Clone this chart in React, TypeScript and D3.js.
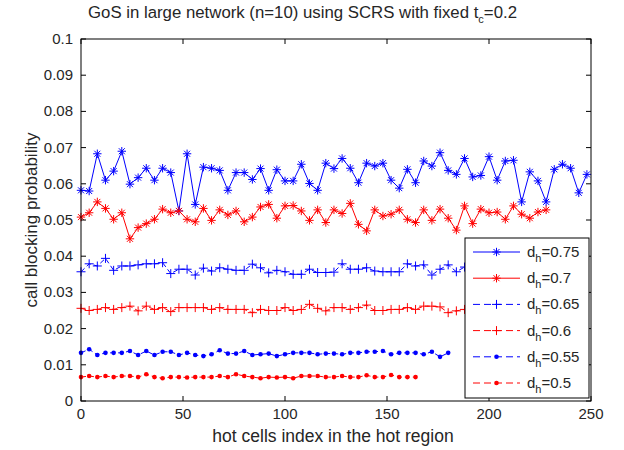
import React from "react";
import * as d3 from "d3";

const xTicks = [0, 50, 100, 150, 200, 250];
const yTicks = [0, 0.01, 0.02, 0.03, 0.04, 0.05, 0.06, 0.07, 0.08, 0.09, 0.1];
const yTickLabels = ["0", "0.01", "0.02", "0.03", "0.04", "0.05", "0.06", "0.07", "0.08", "0.09", "0.1"];
const step = 4;

const dh075 = [
  0.0582, 0.058, 0.0683, 0.061, 0.0635, 0.069, 0.0599, 0.0617, 0.0643, 0.061, 0.0643, 0.0631, 0.0525, 0.0683, 0.0543, 0.0646, 0.0643, 0.0637, 0.0582, 0.0631, 0.0631, 0.0612,
  0.0642, 0.0582, 0.0639, 0.0608, 0.0608, 0.0654, 0.0601, 0.0582, 0.0657, 0.0642, 0.067, 0.0643, 0.0603, 0.0657, 0.0649, 0.0657, 0.061, 0.0588, 0.064, 0.0603, 0.0663,
  0.0649, 0.0686, 0.0637, 0.0626, 0.067, 0.0619, 0.0623, 0.0675, 0.061, 0.0663, 0.0665, 0.055, 0.0633, 0.0608, 0.055, 0.064, 0.0654, 0.0643, 0.0575, 0.0626,
];
const dh07 = [
  0.0508, 0.052, 0.055, 0.0532, 0.0502, 0.052, 0.0448, 0.0479, 0.049, 0.0502, 0.053, 0.052, 0.0525, 0.0502, 0.0495, 0.0532, 0.0499, 0.0528, 0.0514, 0.0525, 0.0495, 0.0508,
  0.0536, 0.0543, 0.0505, 0.0539, 0.054, 0.0525, 0.0499, 0.0528, 0.0493, 0.0528, 0.0518, 0.0546, 0.0488, 0.047, 0.0528, 0.0511, 0.0516, 0.0528, 0.0502, 0.0493, 0.0528,
  0.0499, 0.053, 0.0505, 0.0472, 0.0539, 0.049, 0.053, 0.052, 0.0522, 0.0502, 0.0539, 0.0516, 0.0505, 0.0522, 0.0528,
];
const dh065 = [
  0.0357, 0.0379, 0.0373, 0.0394, 0.0361, 0.0373, 0.0373, 0.0376, 0.0379, 0.0379, 0.0382, 0.0352, 0.0364, 0.0364, 0.0348, 0.0367,
  0.0359, 0.0368, 0.0364, 0.0361, 0.0361, 0.0378, 0.0368, 0.0354, 0.0361, 0.0357, 0.035, 0.035, 0.0364, 0.0355, 0.0355, 0.0356,
  0.0379, 0.0364, 0.0364, 0.0368, 0.0359, 0.0357, 0.0357, 0.0357, 0.0379, 0.0373, 0.0376, 0.0348, 0.0364, 0.0376, 0.0357, 0.037,
];
const dh06 = [
  0.0256, 0.025, 0.0253, 0.0258, 0.0253, 0.0258, 0.0262, 0.0249, 0.0262, 0.0253, 0.0258, 0.0247, 0.0258, 0.0258, 0.0258, 0.0258,
  0.0253, 0.0258, 0.0253, 0.0253, 0.0253, 0.0244, 0.0253, 0.025, 0.025, 0.0258, 0.025, 0.0253, 0.0267, 0.0256, 0.0249, 0.0258,
  0.0258, 0.0253, 0.0258, 0.0265, 0.025, 0.025, 0.0253, 0.0253, 0.0258, 0.0253, 0.0262, 0.0262, 0.026, 0.0244, 0.0249, 0.0253,
];
const dh055 = [
  0.0133, 0.0143, 0.0127, 0.0133, 0.0133, 0.0133, 0.0138, 0.0127, 0.0138, 0.0127, 0.0136, 0.0136, 0.0127, 0.0133, 0.0127, 0.0124,
  0.0129, 0.014, 0.0131, 0.0131, 0.0138, 0.0127, 0.0129, 0.0131, 0.0124, 0.0129, 0.0133, 0.0133, 0.0133, 0.0129, 0.0131, 0.0131,
  0.0129, 0.0133, 0.0133, 0.0136, 0.0136, 0.0138, 0.0129, 0.0133, 0.0133, 0.0133, 0.0129, 0.0136, 0.0122, 0.0133,
];
const dh05 = [
  0.0066, 0.0069, 0.0066, 0.0069, 0.0066, 0.0069, 0.0069, 0.0066, 0.0074, 0.0066, 0.0063, 0.0066, 0.0066, 0.0065, 0.0066, 0.0066,
  0.0066, 0.0069, 0.0066, 0.0074, 0.0069, 0.0066, 0.0063, 0.0066, 0.0065, 0.0066, 0.0063, 0.0069, 0.0069, 0.0069, 0.0066, 0.0066,
  0.0069, 0.0066, 0.0066, 0.0071, 0.0066, 0.0066, 0.0072, 0.0066, 0.0066, 0.0066,
];

const seriesLabels = ["0.75", "0.7", "0.65", "0.6", "0.55", "0.5"];
const seriesData = [dh075, dh07, dh065, dh06, dh055, dh05];

type Style = { color: string; dash?: string; marker: "star" | "plus" | "dot" };
const styles: Style[] = [
  { color: "#0000ff", marker: "star" },
  { color: "#ff0000", marker: "star" },
  { color: "#0000ff", marker: "plus", dash: "5,3" },
  { color: "#ff0000", marker: "plus", dash: "5,3" },
  { color: "#0000ff", marker: "dot", dash: "5,3" },
  { color: "#ff0000", marker: "dot", dash: "5,3" },
];

const W = 624, H = 450;
const M = { left: 81, right: 591, top: 39, bottom: 401 };
const FONT = "'Liberation Sans', Arial, sans-serif";
const TXT = "#262626";

function Marker({ kind, x, y, color }: { kind: string; x: number; y: number; color: string }) {
  if (kind === "dot") return <circle cx={x} cy={y} r={2.3} fill={color} />;
  if (kind === "plus") {
    const s = 4.5;
    return <path d={`M${x - s},${y}H${x + s}M${x},${y - s}V${y + s}`} stroke={color} strokeWidth={1} fill="none" />;
  }
  const s = 4.2, d = 3;
  return (
    <path
      d={`M${x - s},${y}H${x + s}M${x},${y - s}V${y + s}M${x - d},${y - d}L${x + d},${y + d}M${x - d},${y + d}L${x + d},${y - d}`}
      stroke={color}
      strokeWidth={1}
      fill="none"
    />
  );
}

export default function App() {
  const x = d3.scaleLinear().domain([0, 250]).range([M.left, M.right]);
  const y = d3.scaleLinear().domain([0, 0.1]).range([M.bottom, M.top]);
  const line = d3
    .line<number>()
    .x((_, i) => x(i * step))
    .y((v) => y(v));

  const lg = { x: 465, y: 238, w: 124, h: 160 };
  const rowH = 26.2;

  return (
    <svg width={W} height={H} style={{ position: "absolute", left: 0, top: 0, background: "#fff" }} fontFamily={FONT}>
      <rect x={0} y={0} width={W} height={H} fill="#fff" />
      {/* title */}
      <text x={88} y={18} textAnchor="start" fontSize={16.8} fill={TXT}>
        GoS in large network (n=10) using SCRS with fixed t
        <tspan fontSize={11} dy={5}>c</tspan>
        <tspan dy={-5}>=0.2</tspan>
      </text>
      {/* data */}
      {seriesData.map((data, si) => (
        <g key={si}>
          <path d={line(data) || ""} fill="none" stroke={styles[si].color} strokeWidth={1} strokeDasharray={styles[si].dash} />
          {data.map((v, i) => (
            <Marker key={i} kind={styles[si].marker} x={x(i * step)} y={y(v)} color={styles[si].color} />
          ))}
        </g>
      ))}
      {/* axes box */}
      <rect x={M.left} y={M.top} width={M.right - M.left} height={M.bottom - M.top} fill="none" stroke="#000" strokeWidth={1} />
      {xTicks.map((t) => (
        <g key={"x" + t}>
          <line x1={x(t)} x2={x(t)} y1={M.bottom} y2={M.bottom - 5} stroke="#000" />
          <line x1={x(t)} x2={x(t)} y1={M.top} y2={M.top + 5} stroke="#000" />
          <text x={x(t)} y={M.bottom + 18} textAnchor="middle" fontSize={15} fill={TXT}>
            {t}
          </text>
        </g>
      ))}
      {yTicks.map((t, i) => (
        <g key={"y" + t}>
          <line x1={M.left} x2={M.left + 5} y1={y(t)} y2={y(t)} stroke="#000" />
          <line x1={M.right} x2={M.right - 5} y1={y(t)} y2={y(t)} stroke="#000" />
          <text x={M.left - 8} y={y(t) + 5} textAnchor="end" fontSize={15} fill={TXT}>
            {yTickLabels[i]}
          </text>
        </g>
      ))}
      <text x={333} y={442} textAnchor="middle" fontSize={17.5} fill={TXT}>
        hot cells index in the hot region
      </text>
      <text transform={`translate(37,${(M.top + M.bottom) / 2}) rotate(-90)`} textAnchor="middle" fontSize={17} fill={TXT}>
        call blocking probability
      </text>
      {/* legend */}
      <rect x={lg.x} y={lg.y} width={lg.w} height={lg.h} fill="#fff" stroke="#000" strokeWidth={1} />
      {seriesLabels.map((lab, i) => {
        const cy = lg.y + 14 + i * rowH;
        const st = styles[i];
        return (
          <g key={"lg" + i}>
            <line x1={lg.x + 8} x2={lg.x + 55} y1={cy} y2={cy} stroke={st.color} strokeWidth={1} strokeDasharray={st.dash ? "7,4" : undefined} />
            <Marker kind={st.marker} x={lg.x + 31.5} y={cy} color={st.color} />
            <text x={lg.x + 62} y={cy + 5} fontSize={15} fill={TXT}>
              d<tspan fontSize={11} dy={5}>h</tspan>
              <tspan dy={-5}>={lab}</tspan>
            </text>
          </g>
        );
      })}
    </svg>
  );
}
